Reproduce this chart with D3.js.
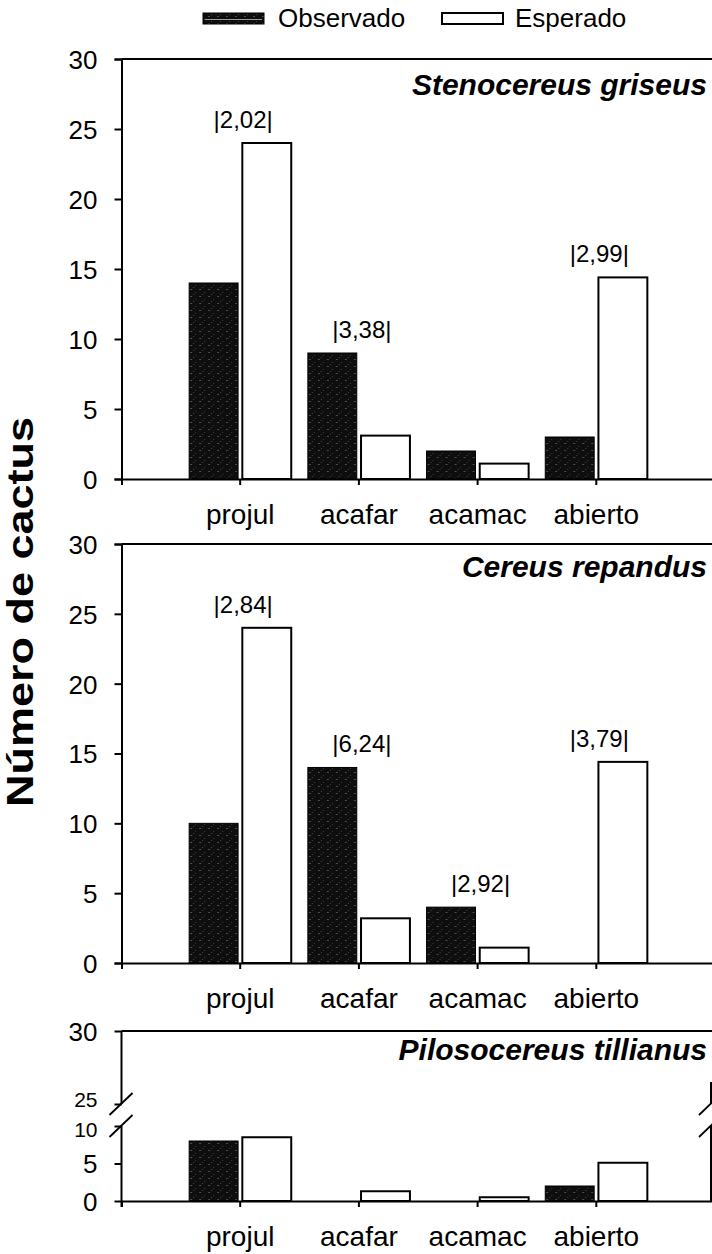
<!DOCTYPE html>
<html><head><meta charset="utf-8">
<script src="https://cdn.jsdelivr.net/npm/d3@7"></script>
<style>
body{margin:0;background:#fff}
svg{display:block}
text{font-family:"Liberation Sans",Arial,sans-serif;fill:#000}
</style>
</head><body>
<svg id="c" width="712" height="1254"></svg>
<script>
// ---- data ----
const categories = ["projul", "acafar", "acamac", "abierto"];
const seriesNames = ["Observado", "Esperado"];
const species = ["Stenocereus griseus", "Cereus repandus", "Pilosocereus tillianus"];
const observado1 = [14, 9, 2, 3];
const esperado1  = [24, 3.1, 1.1, 14.4];
const labels1    = ["|2,02|", "|3,38|", null, "|2,99|"];
const observado2 = [10, 14, 4, 0];
const esperado2  = [24, 3.2, 1.1, 14.4];
const labels2    = ["|2,84|", "|6,24|", "|2,92|", "|3,79|"];
const observado3 = [8, 0, 0, 2];
const esperado3  = [8.5, 1.3, 0.5, 5.1];
const labels3    = [null, null, null, null];
const yTicks       = [0, 5, 10, 15, 20, 25, 30];
const yTicksBroken = [0, 5, 10, 25, 30];
const yTitle = "Número de cactus";

// ---- layout ----
const svg = d3.select("#c");
const axisX = 121.5, rightX = 715;

const defs = svg.append("defs");
const pat = defs.append("pattern").attr("id", "obsPat")
  .attr("width", 9).attr("height", 7).attr("patternUnits", "userSpaceOnUse");
pat.append("rect").attr("width", 9).attr("height", 7).attr("fill", "#0e0e0e");
pat.append("rect").attr("x", 1).attr("y", 2).attr("width", 2).attr("height", 1).attr("fill", "#4d4d4d");
pat.append("rect").attr("x", 6).attr("y", 5).attr("width", 1).attr("height", 1).attr("fill", "#3c3c3c");
pat.append("rect").attr("x", 4).attr("y", 0).attr("width", 1).attr("height", 1).attr("fill", "#444");

const x0 = d3.scaleBand().domain(categories).range([axisX, rightX])
  .paddingInner(0.14).paddingOuter(0.57);
const x1 = d3.scaleBand().domain(seriesNames).range([0, x0.bandwidth()]).paddingInner(0.08);

const panels = [
  {obs: observado1, exp: esperado1, lab: labels1, name: species[0],
   y: d3.scaleLinear().domain([0, 30]).range([479, 59]), ticks: yTicks, titleY: 95, broken: false},
  {obs: observado2, exp: esperado2, lab: labels2, name: species[1],
   y: d3.scaleLinear().domain([0, 30]).range([963, 544]), ticks: yTicks, titleY: 577, broken: false},
  {obs: observado3, exp: esperado3, lab: labels3, name: species[2],
   y: d3.scaleLinear().domain([0, 10, 25, 30]).range([1201, 1126, 1104, 1031]), ticks: yTicksBroken, titleY: 1060, broken: true}
];

const LW = 2;

panels.forEach(p => {
  const g = svg.append("g");
  const y = p.y;
  const y0 = y(0), yTop = y(30);

  // top frame line
  g.append("line").attr("x1", axisX).attr("x2", 712).attr("y1", yTop).attr("y2", yTop)
    .attr("stroke", "#000").attr("stroke-width", LW);

  // bars
  const rows = categories.map((c, i) => ({c, vals: [p.obs[i], p.exp[i]], lab: p.lab[i]}));
  const grp = g.selectAll("g.grp").data(rows).join("g")
    .attr("transform", d => `translate(${x0(d.c)},0)`);
  grp.selectAll("rect").data(d => d.vals.map((v, k) => ({s: seriesNames[k], v})))
    .join("rect")
    .filter(d => d.v > 0)
    .attr("x", d => x1(d.s))
    .attr("width", x1.bandwidth())
    .attr("y", d => y(d.v))
    .attr("height", d => y0 - y(d.v))
    .attr("fill", d => d.s === "Observado" ? "url(#obsPat)" : "#fff")
    .attr("stroke", "#000")
    .attr("stroke-width", d => d.s === "Observado" ? 1 : LW);

  // value labels
  g.selectAll("text.val").data(rows.filter(d => d.lab)).join("text")
    .attr("class", "val")
    .attr("x", d => x0(d.c) + x0.bandwidth() / 2 + 3)
    .attr("y", d => y(d3.max(d.vals)) - 15)
    .attr("text-anchor", "middle")
    .style("font-size", "24px")
    .text(d => d.lab);

  // x axis
  const xa = g.append("g").attr("transform", `translate(0,${y0})`)
    .call(d3.axisBottom(x0).tickSize(6).tickSizeOuter(6).tickPadding(0));
  xa.selectAll("path,line").attr("stroke", "#000").attr("stroke-width", LW);
  xa.selectAll("text").attr("y", 45).attr("dy", 0)
    .style("font-size", "28px").style("font-family", '"Liberation Sans",Arial,sans-serif');

  // y axis
  const ya = g.append("g").attr("transform", `translate(${axisX},0)`)
    .call(d3.axisLeft(y).tickValues(p.ticks).tickSize(7).tickSizeOuter(7).tickPadding(17).tickFormat(d3.format("d")));
  ya.selectAll("path,line").attr("stroke", "#000").attr("stroke-width", LW);
  ya.selectAll("text").attr("dy", "0.36em")
    .style("font-size", "26px").style("font-family", '"Liberation Sans",Arial,sans-serif');

  if (p.broken) {
    ya.select("path.domain").remove();
    // the two labels next to the break sit very close: shrink and nudge apart
    ya.selectAll(".tick").filter(d => d === 25).select("text")
      .style("font-size", "21px").attr("dy", "0.1em");
    ya.selectAll(".tick").filter(d => d === 10).select("text")
      .style("font-size", "21px").attr("dy", "0.5em");
    const seg = (xx, a, b) => g.append("line").attr("x1", xx).attr("x2", xx)
      .attr("y1", a).attr("y2", b).attr("stroke", "#000").attr("stroke-width", LW);
    seg(axisX, y(30), y(25));
    seg(axisX, y(10), y(0) + 6);
    seg(711, 1082, y(25));
    seg(711, y(10), y(0));
    const slash = (cx, cy) => g.append("line")
      .attr("x1", cx - 12).attr("y1", cy + 11).attr("x2", cx + 11).attr("y2", cy - 11)
      .attr("stroke", "#000").attr("stroke-width", 1.8);
    [y(25), y(10)].forEach(cy => { slash(axisX, cy); slash(711, cy); });
  }

  // species title
  g.append("text").attr("x", 707).attr("y", p.titleY).attr("text-anchor", "end")
    .style("font-size", "30px").style("font-weight", "bold").style("font-style", "italic")
    .text(p.name);
});

// legend
const leg = svg.append("g");
const legItems = [
  {s: seriesNames[0], rx: 203, tx: 278},
  {s: seriesNames[1], rx: 442, tx: 515}
];
legItems.forEach((d, i) => {
  leg.append("rect").attr("x", d.rx).attr("y", 13).attr("width", 61).attr("height", 11)
    .attr("fill", i === 0 ? "url(#obsPat)" : "#fff").attr("stroke", "#000").attr("stroke-width", i === 0 ? 1 : LW);
  if (i === 0) leg.append("line").attr("x1", d.rx + 2).attr("x2", d.rx + 59).attr("y1", 19.5).attr("y2", 19.5)
    .attr("stroke", "#9a9a9a").attr("stroke-width", 1);
  leg.append("text").attr("x", d.tx).attr("y", 27).style("font-size", "26px").text(d.s);
});

// y title
svg.append("text")
  .attr("transform", "translate(33,612) rotate(-90) scale(1.25,1)")
  .attr("text-anchor", "middle")
  .style("font-size", "36px").style("font-weight", "bold")
  .text(yTitle);
</script>
</body></html>
